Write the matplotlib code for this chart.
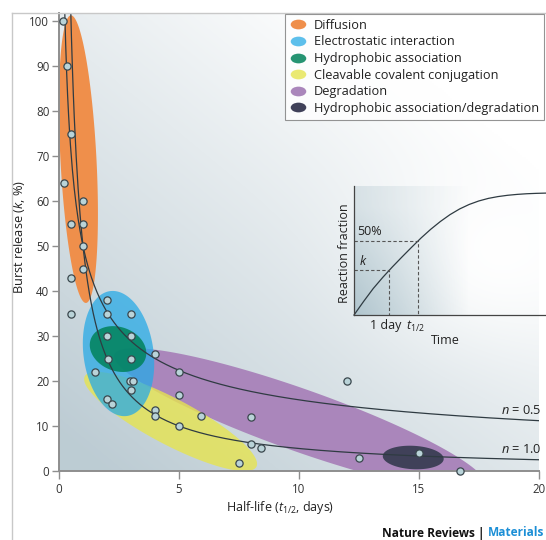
import numpy as np
import matplotlib
matplotlib.use("Agg")
import matplotlib.pyplot as plt
from matplotlib.patches import Polygon
from matplotlib.lines import Line2D
from matplotlib.path import Path
from matplotlib.transforms import Affine2D

FONT = 'Open Sans'
plt.rcParams['font.family'] = [FONT, 'DejaVu Sans']
plt.rcParams['mathtext.fontset'] = 'custom'
plt.rcParams['mathtext.rm'] = FONT
plt.rcParams['mathtext.it'] = FONT + ':italic'
plt.rcParams['mathtext.bf'] = FONT + ':bold'

# measured systems: half-life (days) vs burst release (%)
half_life = [0.15, 0.35, 0.5, 0.2, 0.5, 1, 1, 1, 1, 0.5, 0.5, 2, 2, 3, 2, 3, 2.05, 3,
             1.5, 4, 5, 2.95, 3.1, 3, 5, 2, 2.2, 4, 4, 5.9, 5, 8, 8, 8.4, 7.5, 12,
             12.5, 15, 16.7]
burst = [100, 90, 75, 64, 55, 60, 55, 50, 45, 43, 35, 38, 35, 35, 30, 30, 25, 25,
         22, 26, 22, 20, 20, 18, 17, 16, 15, 13.5, 12.3, 12.3, 10, 12, 6, 5.2, 1.8, 20,
         3, 4, 0]

# model exponents for the guide curves
n_values = [0.5, 1.0]

# mechanism regions (drawn as ellipses)
region_names = ['Diffusion', 'Electrostatic interaction', 'Hydrophobic association',
                'Cleavable covalent conjugation', 'Degradation',
                'Hydrophobic association/degradation']
region_colors = ['#ef8f4b', '#28aae6', '#00825a', '#e6e450', '#aa86bb', '#404159']
region_alpha = [1.0, 0.75, 0.85, 0.8, 1.0, 1.0]
region_cx = [0.81, 2.48, 2.46, 4.65, 10.04, 14.76]
region_cy = [69.3, 26.1, 27.1, 11.0, 11.3, 3.0]
region_a = [144, 63, 29, 97, 197, 30.5]      # semi axes in pixels
region_b = [18, 35, 22, 23, 31, 11.7]
region_ang = [93, 97.7, -20, -27.8, -19.5, -3]
draw_order = [4, 3, 1, 2, 0, 5]

# inset schematic curve
inset_x = [0, 0.05, 0.1, 0.15, 0.2, 0.25, 0.3, 0.35, 0.4, 0.45, 0.5, 0.55, 0.6,
           0.65, 0.7, 0.75, 0.8, 0.85, 0.9, 0.95, 1.0]
inset_y = [0, 0.105, 0.205, 0.292, 0.373, 0.45, 0.525, 0.598, 0.665, 0.725, 0.778,
           0.822, 0.857, 0.884, 0.904, 0.918, 0.928, 0.935, 0.94, 0.943, 0.945]
inset_k = 0.349
inset_half = 0.576
inset_day = 0.184
inset_thalf = 0.335

W, H = 546, 540
fig = plt.figure(figsize=(W / 100, H / 100), dpi=100)
ax = fig.add_axes([59 / W, 1 - 471 / H, 480 / W, 458 / H])
ax.set_xlim(0, 20)
ax.set_ylim(0, 458 / 4.5)

# background gradient
u, v = np.meshgrid(np.linspace(0, 1, 240), np.linspace(0, 1, 240))
pxx = 59 + u * 480
pxy = 471 - v * 458
d = np.clip(0.6 * (1 - u) + 0.7 * (1 - v) - 0.24, 0, 1)
halo = np.exp(-(((pxx - 500) / 110) ** 2 + ((pxy - 250) / 90) ** 2))
d = d * (1 - 0.95 * halo)
dark = np.array([0.74, 0.80, 0.83])
img = (1 - d[..., None]) * np.ones(3) + d[..., None] * dark
ax.imshow(img, extent=(0, 20, 0, 458 / 4.5), origin='lower', aspect='auto',
          interpolation='bilinear', zorder=0)


def ellipse(cx, cy, a, b, ang, **kw):
    t = np.linspace(0, 2 * np.pi, 300)
    x0, y0 = ax.transData.transform((cx, cy))
    r = np.radians(ang)
    ex = x0 + a * np.cos(t) * np.cos(r) - b * np.sin(t) * np.sin(r)
    ey = y0 + a * np.cos(t) * np.sin(r) + b * np.sin(t) * np.cos(r)
    pts = ax.transData.inverted().transform(np.column_stack([ex, ey]))
    return Polygon(pts, closed=True, **kw)


for z, i in enumerate(draw_order):
    p = ellipse(region_cx[i], region_cy[i], region_a[i], region_b[i], region_ang[i],
                facecolor=region_colors[i], alpha=region_alpha[i], edgecolor='none',
                zorder=1 + z * 0.1)
    ax.add_patch(p)
    if i == 5:
        p.set_clip_on(False)

t = np.linspace(0.2, 20, 500)
for n in n_values:
    ax.plot(t, 50 / t ** n, color='#2f3b42', lw=0.9, zorder=5)
    ax.text(20.1, 50 / 20 ** n + 2.2, '$n$ = %.1f' % n, ha='right', va='center',
            fontsize=9.2, color='#222')

ax.plot(half_life, burst, 'o', ms=5.2, mfc='#b9d3d8', mec='#3a474d', mew=0.9,
        zorder=6, clip_on=False)

for s in ['top', 'right']:
    ax.spines[s].set_visible(False)
for s in ['left', 'bottom']:
    ax.spines[s].set_color('#8e8e8e')
    ax.spines[s].set_linewidth(1.4)
ax.set_xticks([0, 5, 10, 15, 20])
ax.set_yticks(range(0, 101, 10))
ax.tick_params(axis='both', direction='out', width=1, color='#8e8e8e',
               labelsize=8.3, labelcolor='#333', pad=2)
ax.tick_params(axis='y', length=5)
ax.tick_params(axis='x', length=6, pad=2.5)

ax.text((19 - 59) / 480, 0.51, 'Burst release ($k$, %)', transform=ax.transAxes,
        rotation=90, ha='center', va='center', fontsize=9.2, color='#222')
ax.text((280 - 59) / 480, (471 - 508) / 458, 'Half-life ($t_{1/2}$, days)',
        transform=ax.transAxes, ha='center', va='center', fontsize=9, color='#222')

# legend
emark = Path.unit_circle().transformed(Affine2D().scale(1.6, 1.0))
handles = [Line2D([], [], marker=emark, ls='none', ms=11.2, mfc=region_colors[i],
                  mec='none', alpha=region_alpha[i]) for i in range(6)]
leg = fig.legend(handles, region_names, loc='upper right',
                 bbox_to_anchor=(544 / W, 1 - 14 / H), borderaxespad=0,
                 fontsize=9.2, frameon=True, fancybox=False, handlelength=1.3,
                 handletextpad=0.6, labelspacing=0.28, borderpad=0.38)
leg.get_frame().set_edgecolor('#7a7a7a')
leg.get_frame().set_linewidth(0.8)
for txt in leg.get_texts():
    txt.set_color('#222')

# inset
ai = fig.add_axes([354 / W, 1 - 315 / H, 192 / W, 129 / H])
ai.set_xlim(0, 1)
ai.set_ylim(0, 1)
ai.patch.set_alpha(0)
iu, iv = np.meshgrid(np.linspace(0, 1, 200), np.linspace(0, 1, 200))
al = np.clip(1 - iu / 0.6, 0, 1) * (0.4 + 0.6 * np.clip(1 - iv * 1.2, 0, 1)) * 0.8
ov = np.zeros((200, 200, 4))
ov[..., 0], ov[..., 1], ov[..., 2] = 0.64, 0.74, 0.78
ov[..., 3] = al
ai.imshow(ov, extent=(0, 1, 0, 1), origin='lower', aspect='auto', zorder=0)
ai.plot(inset_x, inset_y, color='#2f3b42', lw=0.9, clip_on=False)
dash = dict(color='#555', lw=0.8, ls=(0, (3, 2)))
ai.plot([0, inset_thalf, inset_thalf], [inset_half, inset_half, 0], **dash)
ai.plot([0, inset_day, inset_day], [inset_k, inset_k, 0], **dash)
for s in ['top', 'right']:
    ai.spines[s].set_visible(False)
for s in ['left', 'bottom']:
    ai.spines[s].set_color('#444')
    ai.spines[s].set_linewidth(0.9)
ai.set_xticks([])
ai.set_yticks([])
ai.text(-0.05, 0.48, 'Reaction fraction', transform=ai.transAxes, rotation=90,
        ha='center', va='center', fontsize=9, color='#222')
ai.text(0.016, inset_half + 0.07, '50%', ha='left', va='center', fontsize=9, color='#222')
ai.text(0.026, inset_k + 0.07, '$k$', ha='left', va='center', fontsize=9, color='#222')
ai.text(0.165, -0.085, '1 day', ha='center', va='center', fontsize=9, color='#222')
ai.text(0.32, -0.085, '$t_{1/2}$', ha='center', va='center', fontsize=9, color='#222')
ai.text(0.474, -0.2, 'Time', ha='center', va='center', fontsize=9, color='#222')

# frame lines of the figure
fig.add_artist(Line2D([12 / W, 12 / W], [0, 1 - 13 / H], color='#c8c8c8', lw=1))
fig.add_artist(Line2D([12 / W, 1], [1 - 13 / H, 1 - 13 / H], color='#c8c8c8', lw=1))

# credit
t2 = fig.text(544 / W, 1 - 533 / H, 'Materials', ha='right', va='center',
              fontsize=8.6, fontweight='bold', color='#1c8fd6')
fig.canvas.draw()
bb = t2.get_window_extent()
fig.text(bb.x0 / W, 1 - 533 / H, 'Nature Reviews | ', ha='right', va='center',
         fontsize=8.6, fontweight='bold', color='#111')

fig.savefig('out.png', dpi=100)
